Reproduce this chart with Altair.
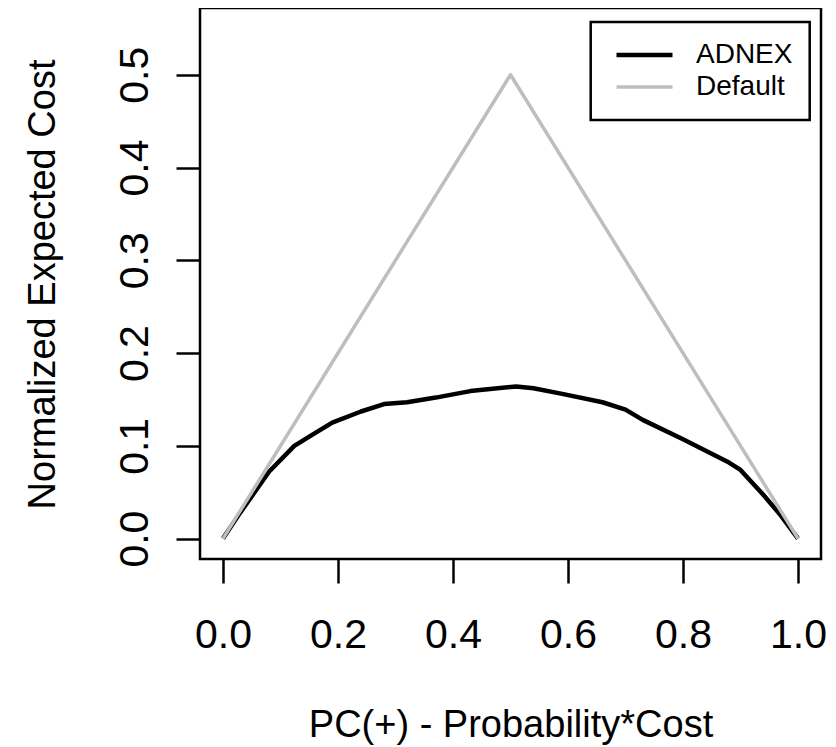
import altair as alt
import pandas as pd

# ---- data ----
adnex_x = [0.0, 0.03, 0.08, 0.124, 0.15, 0.19, 0.24, 0.28, 0.32, 0.37, 0.43, 0.51,
           0.54, 0.59, 0.66, 0.70, 0.73, 0.80, 0.88, 0.90, 0.94, 0.97, 1.0]
adnex_y = [0.0, 0.028, 0.072, 0.100, 0.110, 0.125, 0.137, 0.145, 0.147, 0.152, 0.159, 0.164,
           0.162, 0.156, 0.147, 0.139, 0.128, 0.107, 0.082, 0.074, 0.047, 0.025, 0.0]
default_x = [0.0, 0.5, 1.0]
default_y = [0.0, 0.5, 0.0]
series_names = ["ADNEX", "Default"]
series_colors = ["#000000", "#BEBEBE"]
x_ticks = [0.0, 0.2, 0.4, 0.6, 0.8, 1.0]
y_ticks = [0.0, 0.1, 0.2, 0.3, 0.4, 0.5]

rows = []
for i, (x, y) in enumerate(zip(adnex_x, adnex_y)):
    rows.append({"series": "ADNEX", "x": x, "y": y, "i": i})
for i, (x, y) in enumerate(zip(default_x, default_y)):
    rows.append({"series": "Default", "x": x, "y": y, "i": i})
df = pd.DataFrame(rows)

FONT = "Liberation Sans"

chart = alt.Chart(df).mark_line(strokeJoin="round", strokeCap="butt").encode(
    x=alt.X("x:Q",
            scale=alt.Scale(domain=[-0.04, 1.04], nice=False, zero=False),
            axis=alt.Axis(values=x_ticks, format=".1f", title="PC(+) - Probability*Cost",
                          grid=False, domain=False, tickSize=24, tickWidth=2.5, tickColor="black",
                          labelFontSize=41, labelFont=FONT, labelColor="black",
                          labelBaseline="alphabetic", labelPadding=64, labelFlush=False,
                          titleFontSize=38, titleFont=FONT, titleFontWeight="normal",
                          titleColor="black", titleBaseline="alphabetic", titleY=177)),
    y=alt.Y("y:Q",
            scale=alt.Scale(domain=[-0.022, 0.572], nice=False, zero=False),
            axis=alt.Axis(values=y_ticks, format=".1f", title="Normalized Expected Cost",
                          grid=False, domain=False, tickSize=24, tickWidth=2.5, tickColor="black",
                          labelFontSize=41, labelFont=FONT, labelColor="black",
                          labelAngle=270, labelAlign="center", labelBaseline="alphabetic",
                          labelPadding=29, labelFlush=False,
                          titleFontSize=38, titleFont=FONT, titleFontWeight="normal",
                          titleColor="black", titleAngle=270, titleAlign="center",
                          titleBaseline="alphabetic", titleX=-146, titleY=276)),
    color=alt.Color("series:N",
                    scale=alt.Scale(domain=series_names, range=series_colors),
                    legend=alt.Legend(title=None, orient="none", legendX=390.7, legendY=14,
                                      symbolType="stroke", symbolSize=3136, symbolStrokeWidth=5,
                                      symbolOffset=6.3,
                                      labelFontSize=28, labelFont=FONT, labelColor="black",
                                      labelOffset=21, padding=17, rowPadding=0,
                                      strokeColor="black")),
    strokeWidth=alt.StrokeWidth("series:N",
                                scale=alt.Scale(domain=series_names, range=[4.5, 3.5]),
                                legend=None),
    order="i:Q",
).properties(
    width=621, height=551,
    autosize=alt.AutoSizeParams(type="none"),
    padding={"left": 192, "top": 0, "right": 7, "bottom": 188},
    background="white",
).configure_view(
    stroke="black", strokeWidth=2.5
).configure_legend(
    strokeWidth=2.5, clipHeight=32
)

chart.save("out.html", embed_options={"renderer": "svg", "actions": False})
